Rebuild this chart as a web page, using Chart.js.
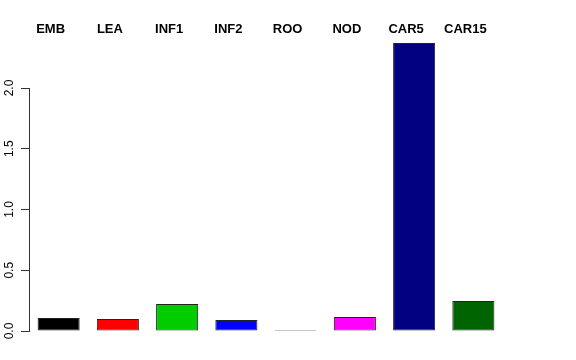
<!DOCTYPE html>
<html><head><meta charset="utf-8">
<script src="https://cdn.jsdelivr.net/npm/chart.js@4/dist/chart.umd.min.js"></script>
<style>html,body{margin:0;padding:0;background:#fff}#wrap{width:576px;height:360px}</style>
</head><body><div id="wrap"><canvas id="c" width="576" height="360"></canvas></div>
<script>
const categories = ["EMB","LEA","INF1","INF2","ROO","NOD","CAR5","CAR15"];
const values = [0.107, 0.099, 0.222, 0.090, 0.008, 0.115, 2.370, 0.247];
const barColors = ["#000000","#FF0000","#00CD00","#0000FF","#444444","#FF00FF","#000080","#006400"];
const yTicks = [0, 0.5, 1.0, 1.5, 2.0];

const topLabels = {
  id: 'topLabels',
  afterDraw(chart) {
    const ctx = chart.ctx, xs = chart.scales.x;
    ctx.save();
    ctx.font = 'bold 13px "Liberation Sans", Arial, sans-serif';
    ctx.fillStyle = '#000';
    ctx.textAlign = 'center';
    ctx.textBaseline = 'middle';
    categories.forEach((c, i) => ctx.fillText(c, xs.getPixelForValue(i) - 8, 29));
    ctx.restore();
  }
};

new Chart(document.getElementById('c'), {
  type: 'bar',
  data: {
    labels: categories,
    datasets: [{
      data: values,
      backgroundColor: barColors,
      borderColor: '#222',
      borderWidth: 1,
      borderSkipped: false,
      barPercentage: 0.71,
      categoryPercentage: 1.0,
      clip: false
    }]
  },
  options: {
    responsive: false,
    animation: false,
    layout: { padding: { left: 0, right: 73, top: 88, bottom: 29 } },
    plugins: { legend: { display: false }, tooltip: { enabled: false } },
    scales: {
      x: { display: false, offset: true },
      y: {
        min: 0, max: 2,
        afterFit(s) { s.width = 29; },
        afterBuildTicks(s) { s.ticks = yTicks.map(v => ({ value: v })); },
        grid: { drawOnChartArea: false, tickLength: 8, color: '#333' },
        border: { display: true, color: '#333', width: 1 },
        ticks: {
          minRotation: 90, maxRotation: 90,
          crossAlign: 'center',
          padding: 3,
          color: '#000',
          font: { family: '"Liberation Sans", Arial, sans-serif', size: 12 },
          callback: v => Number(v).toFixed(1)
        }
      }
    }
  },
  plugins: [topLabels]
});
</script></body></html>
